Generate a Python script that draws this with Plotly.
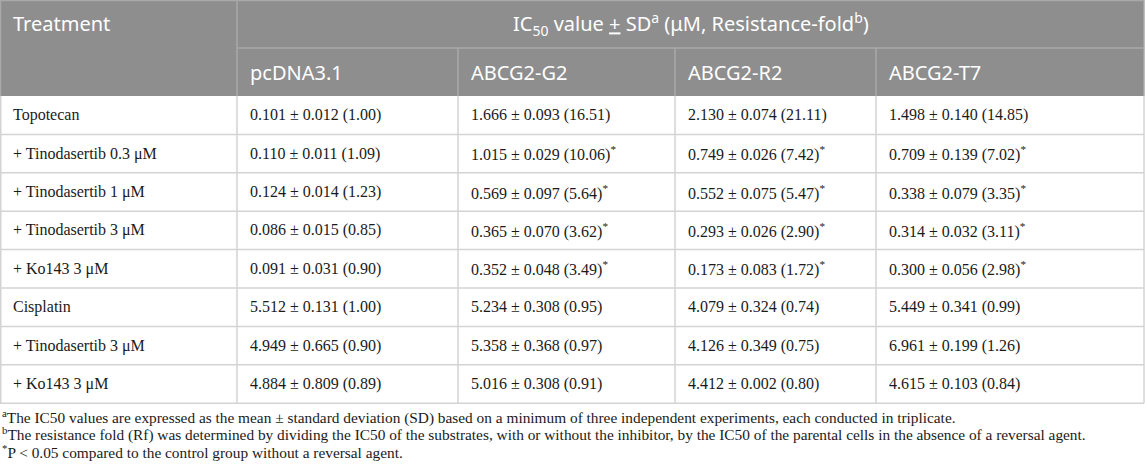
import plotly.graph_objects as go

# ─────────────────────────────────────────────
# DATA
# ─────────────────────────────────────────────
TREATMENTS = [
    "Topotecan",
    "+ Tinodasertib 0.3 μM",
    "+ Tinodasertib 1 μM",
    "+ Tinodasertib 3 μM",
    "+ Ko143 3 μM",
    "Cisplatin",
    "+ Tinodasertib 3 μM",
    "+ Ko143 3 μM",
]
CELL_LINES = ["pcDNA3.1", "ABCG2-G2", "ABCG2-R2", "ABCG2-T7"]

IC50_PCDNA = [0.101, 0.110, 0.124, 0.086, 0.091, 5.512, 4.949, 4.884]
SD_PCDNA = [0.012, 0.011, 0.014, 0.015, 0.031, 0.131, 0.665, 0.809]
RF_PCDNA = [1.00, 1.09, 1.23, 0.85, 0.90, 1.00, 0.90, 0.89]
SIG_PCDNA = [0, 0, 0, 0, 0, 0, 0, 0]

IC50_G2 = [1.666, 1.015, 0.569, 0.365, 0.352, 5.234, 5.358, 5.016]
SD_G2 = [0.093, 0.029, 0.097, 0.070, 0.048, 0.308, 0.368, 0.308]
RF_G2 = [16.51, 10.06, 5.64, 3.62, 3.49, 0.95, 0.97, 0.91]
SIG_G2 = [0, 1, 1, 1, 1, 0, 0, 0]

IC50_R2 = [2.130, 0.749, 0.552, 0.293, 0.173, 4.079, 4.126, 4.412]
SD_R2 = [0.074, 0.026, 0.075, 0.026, 0.083, 0.324, 0.349, 0.002]
RF_R2 = [21.11, 7.42, 5.47, 2.90, 1.72, 0.74, 0.75, 0.80]
SIG_R2 = [0, 1, 1, 1, 1, 0, 0, 0]

IC50_T7 = [1.498, 0.709, 0.338, 0.314, 0.300, 5.449, 6.961, 4.615]
SD_T7 = [0.140, 0.139, 0.079, 0.032, 0.056, 0.341, 0.199, 0.103]
RF_T7 = [14.85, 7.02, 3.35, 3.11, 2.98, 0.99, 1.26, 0.84]
SIG_T7 = [0, 1, 1, 1, 1, 0, 0, 0]

HEADER_TOP = "IC<sub>50</sub> value <u>+</u> SD<sup>a</sup> (μM, Resistance-fold<sup>b</sup>)"
FOOTNOTES = [
    "<sup>a</sup>The IC50 values are expressed as the mean ± standard deviation (SD) based on a minimum of three independent experiments, each conducted in triplicate.",
    "<sup>b</sup>The resistance fold (Rf) was determined by dividing the IC50 of the substrates, with or without the inhibitor, by the IC50 of the parental cells in the absence of a reversal agent.",
    "<sup>*</sup>P < 0.05 compared to the control group without a reversal agent.",
]

# ─────────────────────────────────────────────
# LAYOUT (pixel grid)
# ─────────────────────────────────────────────
W, H = 1145, 470
COL_X = [0, 237, 458, 675, 876, 1144]
HEAD_Y = [0, 48, 96]
ROW_H = 38.4
PAD = 11

HEAD_BG = "#8e8e8e"
HEAD_LINE = "#a9a9a9"
BODY_LINE = "#d3d3d3"
TXT = "#1a1a1a"
SANS = "Noto Sans"
SERIF = "Liberation Serif"

columns = [
    (IC50_PCDNA, SD_PCDNA, RF_PCDNA, SIG_PCDNA),
    (IC50_G2, SD_G2, RF_G2, SIG_G2),
    (IC50_R2, SD_R2, RF_R2, SIG_R2),
    (IC50_T7, SD_T7, RF_T7, SIG_T7),
]

def fmt(m, s, r, sig):
    t = f"{m:.3f} ± {s:.3f} ({r:.2f})"
    return t + ("<sup>*</sup>" if sig else "")

shapes = []
annotations = []

def line(x0, y0, x1, y1, color, w=1.5):
    shapes.append(dict(type="line", xref="x", yref="y", x0=x0, y0=y0, x1=x1, y1=y1,
                       line=dict(color=color, width=w), layer="above"))

def text(x, y, s, font, size, color, xanchor="left"):
    annotations.append(dict(x=x, y=y, xref="x", yref="y", text=s, showarrow=False,
                            xanchor=xanchor, yanchor="middle",
                            font=dict(family=font, size=size, color=color)))

# header background
shapes.append(dict(type="rect", xref="x", yref="y", x0=COL_X[0], x1=COL_X[-1],
                   y0=HEAD_Y[0], y1=HEAD_Y[2], fillcolor=HEAD_BG, line=dict(width=0), layer="below"))

# header lines
line(COL_X[0], 0.5, COL_X[-1], 0.5, HEAD_LINE)
line(COL_X[1], HEAD_Y[1], COL_X[-1], HEAD_Y[1], HEAD_LINE)
line(COL_X[1], HEAD_Y[0], COL_X[1], HEAD_Y[2], HEAD_LINE)
for cx in COL_X[2:-1]:
    line(cx, HEAD_Y[1], cx, HEAD_Y[2], HEAD_LINE)
line(COL_X[0] + 0.5, HEAD_Y[0], COL_X[0] + 0.5, HEAD_Y[2], HEAD_LINE)
line(COL_X[-1], HEAD_Y[0], COL_X[-1], HEAD_Y[2], HEAD_LINE)

# header texts
text(COL_X[0] + PAD, (HEAD_Y[0] + HEAD_Y[1]) / 2 - 1, "Treatment", SANS, 20, "white")
text((COL_X[1] + COL_X[-1]) / 2, (HEAD_Y[0] + HEAD_Y[1]) / 2, HEADER_TOP, SANS, 20, "white", "center")
for i, name in enumerate(CELL_LINES):
    text(COL_X[i + 1] + PAD, (HEAD_Y[1] + HEAD_Y[2]) / 2, name, SANS, 20, "white")

# body
n = len(TREATMENTS)
y_bottom = HEAD_Y[2] + n * ROW_H
for r in range(n):
    y0 = HEAD_Y[2] + r * ROW_H
    yc = y0 + ROW_H / 2
    text(COL_X[0] + PAD, yc, TREATMENTS[r], SERIF, 16, TXT)
    for c, (m, s, rf, sig) in enumerate(columns):
        text(COL_X[c + 1] + PAD, yc, fmt(m[r], s[r], rf[r], sig[r]), SERIF, 16, TXT)
    line(COL_X[0], y0 + ROW_H, COL_X[-1], y0 + ROW_H, BODY_LINE)
for cx in COL_X:
    xx = cx + 0.75 if cx == 0 else cx
    line(xx, HEAD_Y[2], xx, y_bottom, BODY_LINE)

# footnotes
for k, f in enumerate(FOOTNOTES):
    text(0, y_bottom + 14 + k * 17, f, SERIF, 15.35, TXT)

fig = go.Figure()
fig.update_layout(
    width=W, height=H,
    margin=dict(l=0, r=0, t=0, b=0),
    paper_bgcolor="white", plot_bgcolor="white",
    xaxis=dict(range=[0, W], visible=False, fixedrange=True),
    yaxis=dict(range=[H, 0], visible=False, fixedrange=True),
    shapes=shapes,
    annotations=annotations,
    showlegend=False,
)

fig.write_html("out.html", config={"displayModeBar": False},
               post_script="document.body.style.margin='0px';")
